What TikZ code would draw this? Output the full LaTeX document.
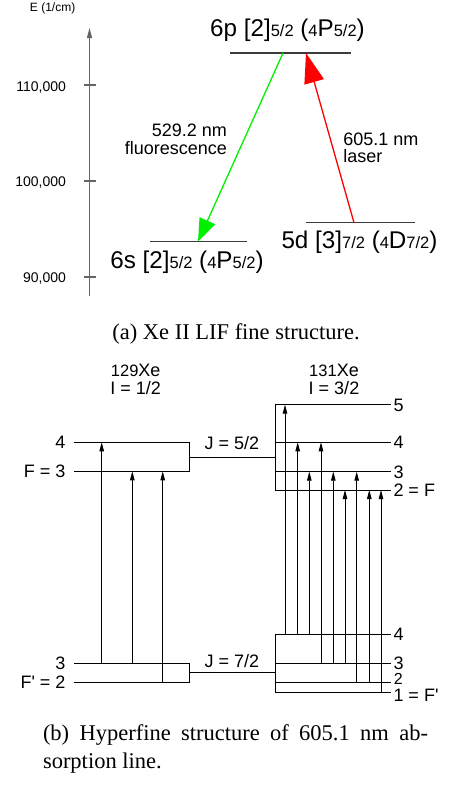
\documentclass[tikz,border=0pt]{standalone}
\usepackage{fontspec}
\setmainfont{Liberation Sans}
\newfontfamily\capfont{Liberation Serif}
\usetikzlibrary{arrows.meta}
\newcommand\smtxt[1]{{\fontsize{16.5}{17}\selectfont #1}}
\newcommand\bigtxt{\fontsize{24.2}{25}\selectfont}
\definecolor{levgray}{RGB}{60,60,60}
\definecolor{axgray}{RGB}{100,100,100}
\definecolor{fgreen}{RGB}{0,240,0}
\begin{document}
\begin{tikzpicture}[x=1pt,y=-1pt,
  every node/.style={inner sep=0pt,outer sep=0pt},
  axisline/.style={draw=axgray,line width=1.1pt},
  lev/.style={draw=levgray,line width=1.3pt},
  hlev/.style={draw=black,line width=1pt},
  harr/.style={draw=black,line width=0.8pt,-{Triangle[length=9pt,width=4.5pt]}},
  ticklab/.style={anchor=base east,font=\fontsize{14}{14}\selectfont},
  midlab/.style={font=\fontsize{18}{18}\selectfont},
  caplab/.style={font=\capfont\fontsize{22.5}{24}\selectfont}]
\useasboundingbox (0,0) rectangle (448,788);
% ---------- (a) ----------
\node[anchor=base west,font=\fontsize{12}{12}\selectfont] (elab) at (30,11) {E (1/cm)};
\coordinate (ax0) at (89.5,296);
\coordinate (ax1) at (89.5,28);
\draw[axisline,-{Triangle[length=10pt,width=5pt]}] (ax0) -- (ax1);
\coordinate (t1a) at (84,85);  \coordinate (t1b) at (96,85);
\coordinate (t2a) at (84,181); \coordinate (t2b) at (96,181);
\coordinate (t3a) at (84,277); \coordinate (t3b) at (96,277);
\draw[axisline] (t1a) -- (t1b);
\draw[axisline] (t2a) -- (t2b);
\draw[axisline] (t3a) -- (t3b);
\node[ticklab] (l110) at (66,91) {110,000};
\node[ticklab] (l100) at (66,186.5) {100,000};
\node[ticklab] (l90) at (66,282.5) {90,000};
% levels
\coordinate (up1) at (230,53);  \coordinate (up2) at (351,53);
\coordinate (sl1) at (150,241.7); \coordinate (sl2) at (247,241.7);
\coordinate (dl1) at (306,222.7); \coordinate (dl2) at (415,222.7);
\draw[lev] (up1) -- (up2);
\draw[lev] (sl1) -- (sl2);
\draw[lev] (dl1) -- (dl2);
\node[anchor=base] (uplab) at (287.5,36) {\bigtxt 6p [2]\smtxt{5/2} (\smtxt{4}P\smtxt{5/2})};
\node[anchor=base] (sllab) at (187,268.3) {\bigtxt 6s [2]\smtxt{5/2} (\smtxt{4}P\smtxt{5/2})};
\node[anchor=base] (dllab) at (359.5,248.5) {\bigtxt 5d [3]\smtxt{7/2} (\smtxt{4}D\smtxt{7/2})};
% transitions
\coordinate (gS) at (283,53);  \coordinate (gE) at (198,241.7);
\coordinate (rS) at (354,222.7); \coordinate (rE) at (306,53);
\draw[draw=fgreen,line width=1.3pt,-{Triangle[length=23pt,width=17pt,fill=fgreen]}] (gS) -- (gE);
\draw[draw=red,line width=1.3pt,-{Triangle[length=30pt,width=20pt,fill=red]}] (rS) -- (rE);
\node[midlab,anchor=base east] (fl1) at (227,136.7) {529.2 nm};
\node[midlab,anchor=base east] (fl2) at (227,154) {fluorescence};
\node[midlab,anchor=base west] (la1) at (343.3,145) {605.1 nm};
\node[midlab,anchor=base west] (la2) at (343.3,162.7) {laser};
\node[caplab,anchor=base] (capa) at (236,339.3) {(a) Xe II LIF fine structure.};
% ---------- (b) ----------
\node[midlab,anchor=base] (iso1) at (135.7,376.7) {\smtxt{129}Xe};
\node[midlab,anchor=base] (spin1) at (135.7,394.3) {I = 1/2};
\node[midlab,anchor=base] (iso2) at (334,376.7) {\smtxt{131}Xe};
\node[midlab,anchor=base] (spin2) at (334,394.3) {I = 3/2};
% left group levels
\coordinate (LU4a) at (74,442.3);  \coordinate (LU4b) at (189,442.3);
\coordinate (LU3a) at (74,471.3);  \coordinate (LU3b) at (189,471.3);
\coordinate (LL3a) at (74,663.3);  \coordinate (LL3b) at (189,663.3);
\coordinate (LL2a) at (74,682);    \coordinate (LL2b) at (189,682);
\draw[hlev] (LU4a) -- (LU4b) -- (LU3b) -- (LU3a);
\draw[hlev] (LL3a) -- (LL3b) -- (LL2b) -- (LL2a);
% right group levels
\coordinate (RU5a) at (275.3,404.7); \coordinate (RU5b) at (390.7,404.7);
\coordinate (RU4a) at (275.3,442.3); \coordinate (RU4b) at (390.7,442.3);
\coordinate (RU3a) at (275.3,471.7); \coordinate (RU3b) at (390.7,471.7);
\coordinate (RU2a) at (275.3,490);   \coordinate (RU2b) at (390.7,490);
\coordinate (RL4a) at (275.3,634.3); \coordinate (RL4b) at (390.7,634.3);
\coordinate (RL3a) at (275.3,663.3); \coordinate (RL3b) at (390.7,663.3);
\coordinate (RL2a) at (275.3,682.3); \coordinate (RL2b) at (390.7,682.3);
\coordinate (RL1a) at (275.3,692.3); \coordinate (RL1b) at (390.7,692.3);
\draw[hlev] (RU5b) -- (RU5a) -- (RU2a) -- (RU2b);
\draw[hlev] (RU4a) -- (RU4b);
\draw[hlev] (RU3a) -- (RU3b);
\draw[hlev] (RL4b) -- (RL4a) -- (RL1a) -- (RL1b);
\draw[hlev] (RL3a) -- (RL3b);
\draw[hlev] (RL2a) -- (RL2b);
% J connectors
\coordinate (JUa) at (189,457);   \coordinate (JUb) at (275.3,457);
\coordinate (JLa) at (189,672.7); \coordinate (JLb) at (275.3,672.7);
\draw[draw=black,line width=0.8pt] (JUa) -- (JUb);
\draw[draw=black,line width=0.8pt] (JLa) -- (JLb);
\node[midlab,anchor=base] (j52) at (232,449.3) {J = 5/2};
\node[midlab,anchor=base] (j72) at (232,667.3) {J = 7/2};
% level labels
\node[midlab,anchor=base east] (lf4) at (65.5,448.7) {4};
\node[midlab,anchor=base east] (lf3) at (65.5,477.7) {F = 3};
\node[midlab,anchor=base east] (lf3p) at (65.5,669.7) {3};
\node[midlab,anchor=base east] (lf2p) at (65.5,688.5) {F\textquotesingle{} = 2};
\node[midlab,anchor=base west] (rf5) at (393.5,411.1) {5};
\node[midlab,anchor=base west] (rf4) at (393.5,448.7) {4};
\node[midlab,anchor=base west] (rf3) at (393.5,478.1) {3};
\node[midlab,anchor=base west] (rf2) at (393.5,496.4) {2 = F};
\node[midlab,anchor=base west] (rf4p) at (393.5,640.7) {4};
\node[midlab,anchor=base west] (rf3p) at (393.5,669.2) {3};
\node[anchor=base west,font=\fontsize{16}{16}\selectfont] (rf2p) at (393.8,684) {2};
\node[midlab,anchor=base west] (rf1p) at (393.5,701.7) {1 = F\textquotesingle};
% arrow x positions
\coordinate (xa) at (101.7,0); \coordinate (xb) at (132.3,0); \coordinate (xc) at (162.7,0);
\draw[harr] (xa |- LL3a) -- (xa |- LU4a);
\draw[harr] (xb |- LL3a) -- (xb |- LU3a);
\draw[harr] (xc |- LL2a) -- (xc |- LU3a);
\coordinate (x1) at (285,0);   \coordinate (x2) at (297.7,0); \coordinate (x3) at (309.3,0);
\coordinate (x4) at (321,0);   \coordinate (x5) at (333.3,0); \coordinate (x6) at (345,0);
\coordinate (x7) at (356.7,0); \coordinate (x8) at (369.3,0); \coordinate (x9) at (381,0);
\draw[harr] (x1 |- RL4a) -- (x1 |- RU5a);
\draw[harr] (x2 |- RL4a) -- (x2 |- RU4a);
\draw[harr] (x3 |- RL4a) -- (x3 |- RU3a);
\draw[harr] (x4 |- RL3a) -- (x4 |- RU4a);
\draw[harr] (x5 |- RL3a) -- (x5 |- RU3a);
\draw[harr] (x6 |- RL3a) -- (x6 |- RU2a);
\draw[harr] (x7 |- RL2a) -- (x7 |- RU3a);
\draw[harr] (x8 |- RL2a) -- (x8 |- RU2a);
\draw[harr] (x9 |- RL1a) -- (x9 |- RU2a);
% caption (b)
\node[caplab,anchor=base west] (capb1) at (43,740) {\makebox[385pt][s]{(b) Hyperfine structure of 605.1 nm ab-}};
\node[caplab,anchor=base west] (capb2) at (43,768) {sorption line.};
\end{tikzpicture}
\end{document}
